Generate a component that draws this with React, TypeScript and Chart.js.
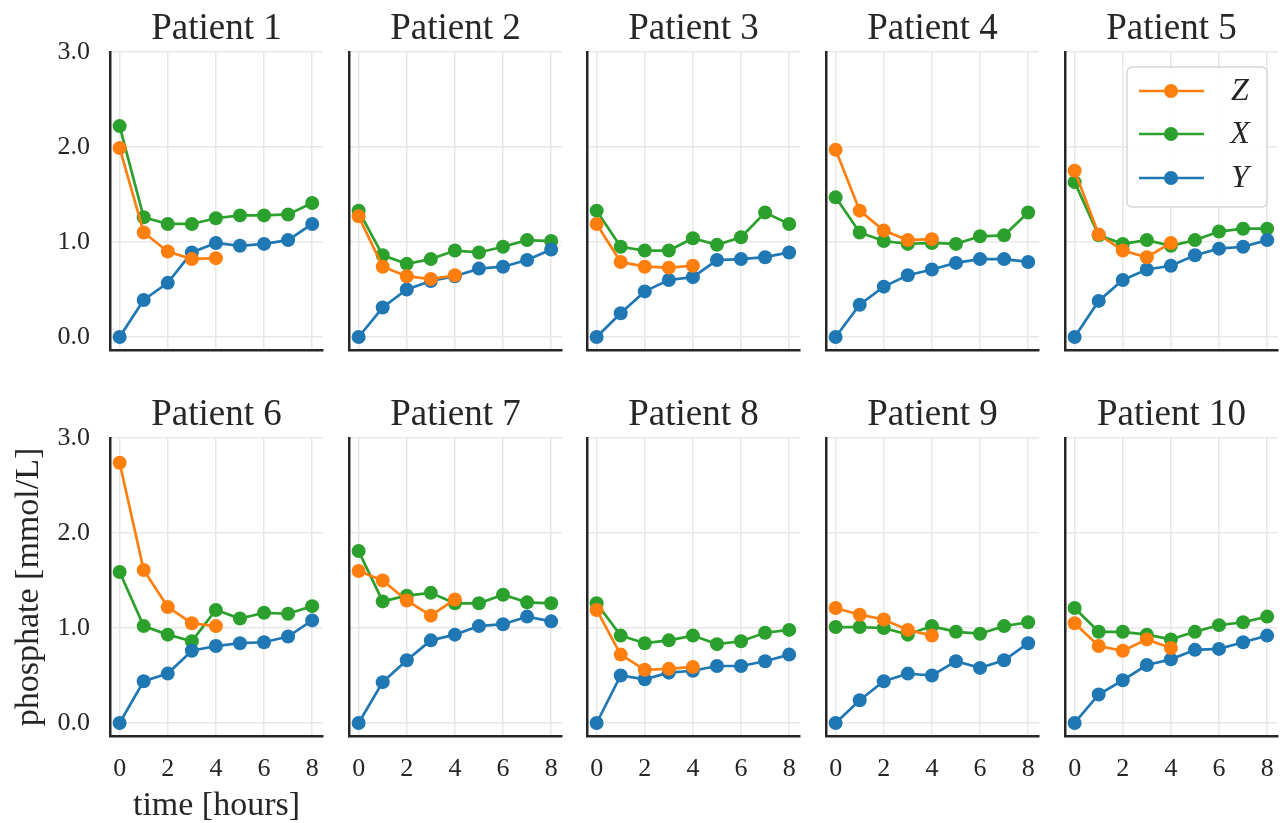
import React, { useEffect, useRef } from 'react';
import { Chart, registerables } from 'chart.js';

Chart.register(...registerables);

// ---------------- data ----------------
const patients = ['Patient 1', 'Patient 2', 'Patient 3', 'Patient 4', 'Patient 5', 'Patient 6', 'Patient 7', 'Patient 8', 'Patient 9', 'Patient 10'];
const hours = [0, 1, 2, 3, 4, 5, 6, 7, 8];
const seriesLabels = ['Z', 'X', 'Y'];

const seriesZ = [
  [1.99, 1.10, 0.90, 0.82, 0.83],
  [1.27, 0.74, 0.64, 0.61, 0.65],
  [1.19, 0.79, 0.74, 0.73, 0.75],
  [1.97, 1.33, 1.12, 1.02, 1.03],
  [1.75, 1.08, 0.91, 0.84, 0.99],
  [2.74, 1.61, 1.22, 1.05, 1.02],
  [1.60, 1.50, 1.29, 1.13, 1.30],
  [1.19, 0.72, 0.56, 0.57, 0.59],
  [1.21, 1.14, 1.09, 0.98, 0.92],
  [1.05, 0.81, 0.76, 0.88, 0.79],
];
const seriesX = [
  [2.22, 1.26, 1.19, 1.19, 1.25, 1.28, 1.28, 1.29, 1.41],
  [1.33, 0.86, 0.77, 0.82, 0.91, 0.89, 0.95, 1.02, 1.01],
  [1.33, 0.95, 0.91, 0.91, 1.04, 0.97, 1.05, 1.31, 1.19],
  [1.47, 1.10, 1.01, 0.98, 0.99, 0.98, 1.06, 1.07, 1.31],
  [1.63, 1.07, 0.98, 1.02, 0.96, 1.02, 1.11, 1.14, 1.14],
  [1.59, 1.02, 0.93, 0.86, 1.19, 1.10, 1.16, 1.15, 1.23],
  [1.81, 1.28, 1.34, 1.37, 1.26, 1.26, 1.35, 1.27, 1.26],
  [1.26, 0.92, 0.84, 0.87, 0.92, 0.83, 0.86, 0.95, 0.98],
  [1.01, 1.01, 1.00, 0.93, 1.02, 0.96, 0.94, 1.02, 1.06],
  [1.21, 0.96, 0.96, 0.93, 0.88, 0.96, 1.03, 1.06, 1.12],
];
const seriesY = [
  [0, 0.39, 0.57, 0.89, 0.99, 0.96, 0.98, 1.02, 1.19],
  [0, 0.31, 0.50, 0.59, 0.64, 0.72, 0.74, 0.81, 0.92],
  [0, 0.25, 0.48, 0.60, 0.63, 0.81, 0.82, 0.84, 0.89],
  [0, 0.34, 0.53, 0.65, 0.71, 0.78, 0.82, 0.82, 0.79],
  [0, 0.38, 0.60, 0.71, 0.75, 0.86, 0.93, 0.95, 1.02],
  [0, 0.44, 0.52, 0.76, 0.81, 0.84, 0.85, 0.91, 1.08],
  [0, 0.43, 0.66, 0.87, 0.93, 1.02, 1.04, 1.12, 1.07],
  [0, 0.50, 0.46, 0.53, 0.55, 0.60, 0.60, 0.65, 0.72],
  [0, 0.24, 0.44, 0.52, 0.50, 0.65, 0.58, 0.66, 0.84],
  [0, 0.30, 0.45, 0.61, 0.67, 0.77, 0.78, 0.85, 0.92],
];

const xTicks = [0, 2, 4, 6, 8];
const xTickLabels = ['0', '2', '4', '6', '8'];
const yTicks = [0, 1, 2, 3];
const yTickLabels = ['0.0', '1.0', '2.0', '3.0'];
const xAxisTitle = 'time [hours]';
const yAxisTitle = 'phosphate [mmol/L]';

// ---------------- style / layout ----------------
const COLORS = { Z: '#ff7f0e', X: '#2ca02c', Y: '#1f77b4' };
const FONT = "'Liberation Serif', 'Times New Roman', serif";
const TEXT = '#262626';
const GRID = '#e8e8e8';
const COL_LEFT = [110, 349, 587, 826, 1065];
const ROW_TOP = [52, 438];
const PLOT_W = 218;
const PLOT_H = 298;
const PAD_T = 52;
const PAGE_H = 823;
const TITLE_SIZE = 37;

function geom(p: number) {
  const r = Math.floor(p / 5);
  const c = p % 5;
  const padL = c === 0 ? COL_LEFT[0] : 12;
  const padR = 2;
  const padB = r === 1 ? PAGE_H - (ROW_TOP[1] + PLOT_H) : 28;
  return {
    r, c, padL, padR, padB,
    left: COL_LEFT[c] - padL,
    top: ROW_TOP[r] - PAD_T,
    w: padL + PLOT_W + padR,
    h: PAD_T + PLOT_H + padB,
  };
}

const legendPlugin = {
  id: 'customLegend',
  afterDatasetsDraw(chart: any, _args: any, opts: any) {
    if (!opts || !opts.show) return;
    const ctx = chart.ctx;
    const ca = chart.chartArea;
    const bx = ca.left + 62, by = ca.top + 15, bw = 140, bh = 140, rad = 5;
    ctx.save();
    ctx.beginPath();
    ctx.moveTo(bx + rad, by);
    ctx.arcTo(bx + bw, by, bx + bw, by + bh, rad);
    ctx.arcTo(bx + bw, by + bh, bx, by + bh, rad);
    ctx.arcTo(bx, by + bh, bx, by, rad);
    ctx.arcTo(bx, by, bx + bw, by, rad);
    ctx.closePath();
    ctx.fillStyle = 'rgba(255,255,255,0.85)';
    ctx.fill();
    ctx.strokeStyle = '#d6d6d6';
    ctx.lineWidth = 1.5;
    ctx.stroke();
    const rows = [39, 82, 126];
    seriesLabels.forEach((lab, i) => {
      const ds = chart.data.datasets.find((d: any) => d.label === lab);
      const y = ca.top + rows[i];
      ctx.strokeStyle = ds.borderColor;
      ctx.lineWidth = 2.7;
      ctx.beginPath();
      ctx.moveTo(ca.left + 74, y);
      ctx.lineTo(ca.left + 139, y);
      ctx.stroke();
      ctx.fillStyle = ds.borderColor;
      ctx.beginPath();
      ctx.arc(ca.left + 106, y, 7, 0, Math.PI * 2);
      ctx.fill();
      ctx.fillStyle = TEXT;
      ctx.font = `italic 32px ${FONT}`;
      ctx.textAlign = 'center';
      ctx.textBaseline = 'middle';
      ctx.fillText(lab, ca.left + 175, y + 1);
    });
    ctx.restore();
  },
};

function makeConfig(p: number): any {
  const g = geom(p);
  const firstCol = g.c === 0;
  const bottomRow = g.r === 1;
  const showAxisTitles = p === 5;
  const mk = (label: string, vals: number[], color: string, order: number) => ({
    label,
    data: vals.map((v, i) => ({ x: hours[i], y: v })),
    borderColor: color,
    backgroundColor: color,
    pointBackgroundColor: color,
    borderWidth: 2.7,
    pointRadius: 7,
    pointBorderWidth: 0,
    pointHoverRadius: 7,
    tension: 0,
    order,
    clip: false,
  });
  const zeroPad = (s: any) => {
    s.paddingTop = 0;
    s.paddingBottom = 0;
    s.paddingLeft = 0;
    s.paddingRight = 0;
  };
  return {
    type: 'line',
    data: {
      datasets: [
        mk('Z', seriesZ[p], COLORS.Z, 0),
        mk('X', seriesX[p], COLORS.X, 2),
        mk('Y', seriesY[p], COLORS.Y, 1),
      ],
    },
    options: {
      responsive: false,
      animation: false,
      events: [],
      layout: { padding: 0 },
      plugins: {
        legend: { display: false },
        tooltip: { enabled: false },
        title: {
          display: true,
          text: patients[p],
          fullSize: false,
          color: TEXT,
          font: { family: FONT, size: TITLE_SIZE, weight: 'normal', lineHeight: 1.2 },
          padding: { top: 7, bottom: PAD_T - TITLE_SIZE * 1.2 - 7 },
        },
        customLegend: { show: p === 4 },
      },
      scales: {
        x: {
          type: 'linear',
          min: -0.4,
          max: 8.45,
          afterBuildTicks: (s: any) => { s.ticks = xTicks.map((v) => ({ value: v })); },
          afterFit: (s: any) => { s.height = g.padB; zeroPad(s); },
          grid: { color: GRID, lineWidth: 1.5, drawTicks: false },
          border: { display: true, color: TEXT, width: 2.5 },
          ticks: {
            display: bottomRow,
            autoSkip: false,
            maxRotation: 0,
            padding: 18,
            color: TEXT,
            font: { family: FONT, size: 26 },
            callback: (_v: any, i: number) => xTickLabels[i],
          },
          title: {
            display: showAxisTitles,
            text: xAxisTitle,
            color: TEXT,
            font: { family: FONT, size: 34 },
            padding: { top: 0, bottom: -3 },
          },
        },
        y: {
          type: 'linear',
          min: -0.137,
          max: 3.0,
          afterBuildTicks: (s: any) => { s.ticks = yTicks.map((v) => ({ value: v })); },
          afterFit: (s: any) => { s.width = g.padL; zeroPad(s); },
          grid: { color: GRID, lineWidth: 1.5, drawTicks: false },
          border: { display: true, color: TEXT, width: 2.5 },
          ticks: {
            display: firstCol,
            autoSkip: false,
            padding: 20,
            color: TEXT,
            font: { family: FONT, size: 26 },
            callback: (_v: any, i: number) => yTickLabels[i],
          },
          title: {
            display: showAxisTitles,
            text: yAxisTitle,
            color: TEXT,
            font: { family: FONT, size: 34 },
            padding: { top: 9, bottom: 0 },
          },
        },
      },
    },
    plugins: [legendPlugin],
  };
}

export default function App() {
  const refs = useRef<(HTMLCanvasElement | null)[]>([]);
  useEffect(() => {
    const charts = patients.map((_, p) => new Chart(refs.current[p] as HTMLCanvasElement, makeConfig(p)));
    return () => charts.forEach((c) => c.destroy());
  }, []);
  return (
    <div style={{ position: 'fixed', left: 0, top: 0, width: 1285, height: 823, overflow: 'hidden', background: '#ffffff' }}>
      {patients.map((_, p) => {
        const g = geom(p);
        return (
          <canvas
            key={p}
            ref={(el) => { refs.current[p] = el; }}
            width={g.w}
            height={g.h}
            style={{ position: 'absolute', left: g.left, top: g.top, width: g.w, height: g.h }}
          />
        );
      })}
    </div>
  );
}
